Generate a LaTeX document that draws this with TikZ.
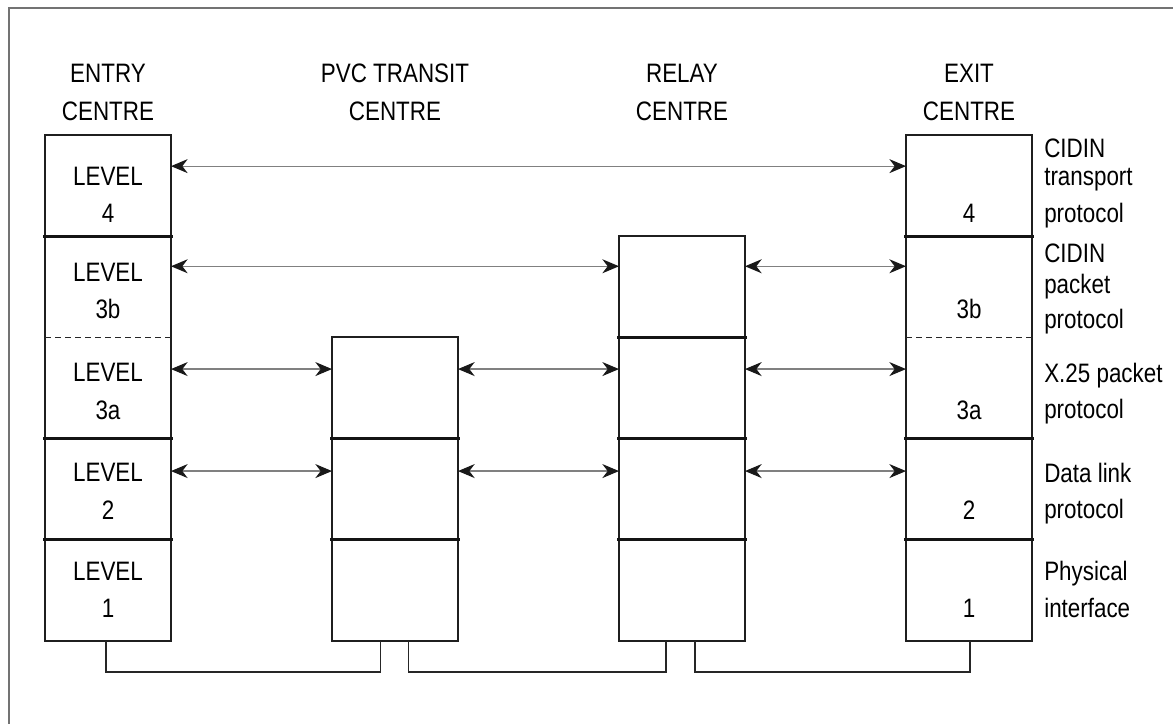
\documentclass[tikz,border=0pt]{standalone}
\usepackage{fontspec}
\setmainfont{Liberation Sans}[FakeStretch=0.84]
\usetikzlibrary{arrows.meta}
\begin{document}
\begin{tikzpicture}[x=0.75pt,y=-0.75pt,
  cell/.style={rectangle, minimum width=94.5pt, minimum height=75.9pt, inner sep=0pt, outer sep=0pt},
  box/.style={draw=black!88, line width=1.4pt},
  sep/.style={draw=black!92, line width=2.4pt, line cap=rect},
  dsep/.style={draw=black!85, line width=1pt, dash pattern=on 4.5pt off 3pt},
  link/.style={draw=black!85, line width=1.1pt},
  frame/.style={draw=black!55, line width=1.2pt},
  arr/.style={draw=black!50, line width=0.9pt,
    {Stealth[length=12.5pt,width=10.5pt,inset=4pt,black!90]}-{Stealth[length=12.5pt,width=10.5pt,inset=4pt,black!90]}},
  txt/.style={font=\fontsize{20}{24}\selectfont, inner sep=0pt, anchor=base},
  lab/.style={txt, anchor=base west}]

\useasboundingbox (0,0) rectangle (1173,724);
\draw[frame] (1173,8) -- (9,8) -- (9,724);

% headers
\node[txt] (h1a) at (108,83) {ENTRY};
\node[txt] (h1b) at (108,120) {CENTRE};
\node[txt] (h2a) at (395,83) {PVC TRANSIT};
\node[txt] (h2b) at (395,120) {CENTRE};
\node[txt] (h3a) at (682,83) {RELAY};
\node[txt] (h3b) at (682,120) {CENTRE};
\node[txt] (h4a) at (969,83) {EXIT};
\node[txt] (h4b) at (969,120) {CENTRE};

% entry column
\node[cell] (e4) at (108,185.6) {};
\node[cell] (e3b) at (108,286.8) {};
\node[cell] (e3a) at (108,388) {};
\node[cell] (e2) at (108,489.2) {};
\node[cell] (e1) at (108,590.4) {};
% PVC column
\node[cell] (p3a) at (395,388) {};
\node[cell] (p2) at (395,489.2) {};
\node[cell] (p1) at (395,590.4) {};
% relay column
\node[cell] (r3b) at (682,286.8) {};
\node[cell] (r3a) at (682,388) {};
\node[cell] (r2) at (682,489.2) {};
\node[cell] (r1) at (682,590.4) {};
% exit column
\node[cell] (x4) at (969,185.6) {};
\node[cell] (x3b) at (969,286.8) {};
\node[cell] (x3a) at (969,388) {};
\node[cell] (x2) at (969,489.2) {};
\node[cell] (x1) at (969,590.4) {};

% outlines
\draw[box] (e4.north west) rectangle (e1.south east);
\draw[box] (p3a.north west) rectangle (p1.south east);
\draw[box] (r3b.north west) rectangle (r1.south east);
\draw[box] (x4.north west) rectangle (x1.south east);

% dividers
\draw[sep] (e4.south west) -- (e4.south east);
\draw[dsep] (e3b.south west) -- (e3b.south east);
\draw[sep] (e3a.south west) -- (e3a.south east);
\draw[sep] (e2.south west) -- (e2.south east);
\draw[sep] (p3a.south west) -- (p3a.south east);
\draw[sep] (p2.south west) -- (p2.south east);
\draw[sep] (r3b.south west) -- (r3b.south east);
\draw[sep] (r3a.south west) -- (r3a.south east);
\draw[sep] (r2.south west) -- (r2.south east);
\draw[sep] (x4.south west) -- (x4.south east);
\draw[dsep] (x3b.south west) -- (x3b.south east);
\draw[sep] (x3a.south west) -- (x3a.south east);
\draw[sep] (x2.south west) -- (x2.south east);

% entry texts
\node[txt] (e4t) at (108,185) {LEVEL};
\node[txt] (e4n) at (108,222) {4};
\node[txt] (e3bt) at (108,281) {LEVEL};
\node[txt] (e3bn) at (108,318) {3b};
\node[txt] (e3at) at (108,381) {LEVEL};
\node[txt] (e3an) at (108,419) {3a};
\node[txt] (e2t) at (108,481) {LEVEL};
\node[txt] (e2n) at (108,519) {2};
\node[txt] (e1t) at (108,580) {LEVEL};
\node[txt] (e1n) at (108,617) {1};
% exit texts
\node[txt] (x4n) at (969,222) {4};
\node[txt] (x3bn) at (969,318) {3b};
\node[txt] (x3an) at (969,419) {3a};
\node[txt] (x2n) at (969,519) {2};
\node[txt] (x1n) at (969,617) {1};

% protocol labels
\node[lab] (l4a) at (1044,157) {CIDIN};
\node[lab] (l4b) at (1044,185) {transport};
\node[lab] (l4c) at (1044,222) {protocol};
\node[lab] (l3ba) at (1044,262) {CIDIN};
\node[lab] (l3bb) at (1044,293) {packet};
\node[lab] (l3bc) at (1044,328) {protocol};
\node[lab] (l3aa) at (1044,382) {X.25 packet};
\node[lab] (l3ab) at (1044,418) {protocol};
\node[lab] (l2a) at (1044,482) {Data link};
\node[lab] (l2b) at (1044,518) {protocol};
\node[lab] (l1a) at (1044,580) {Physical};
\node[lab] (l1b) at (1044,617) {interface};

% peer arrows
\draw[arr] ([yshift=14.6pt]e4.east) -- ([yshift=14.6pt]x4.west);
\draw[arr] ([yshift=15.4pt]e3b.east) -- ([yshift=15.4pt]r3b.west);
\draw[arr] ([yshift=15.4pt]r3b.east) -- ([yshift=15.4pt]x3b.west);
\draw[arr] ([yshift=14.2pt]e3a.east) -- ([yshift=14.2pt]p3a.west);
\draw[arr] ([yshift=14.2pt]p3a.east) -- ([yshift=14.2pt]r3a.west);
\draw[arr] ([yshift=14.2pt]r3a.east) -- ([yshift=14.2pt]x3a.west);
\draw[arr] ([yshift=13.6pt]e2.east) -- ([yshift=13.6pt]p2.west);
\draw[arr] ([yshift=13.6pt]p2.east) -- ([yshift=13.6pt]r2.west);
\draw[arr] ([yshift=13.6pt]r2.east) -- ([yshift=13.6pt]x2.west);

% physical links
\draw[link] ([xshift=-1.5pt]e1.south) -- ++(0,31) -| ([xshift=-11pt]p1.south);
\draw[link] ([xshift=10pt]p1.south) -- ++(0,31) -| ([xshift=-12pt]r1.south);
\draw[link] ([xshift=9.75pt]r1.south) -- ++(0,31) -| ([xshift=0.75pt]x1.south);
\end{tikzpicture}
\end{document}
